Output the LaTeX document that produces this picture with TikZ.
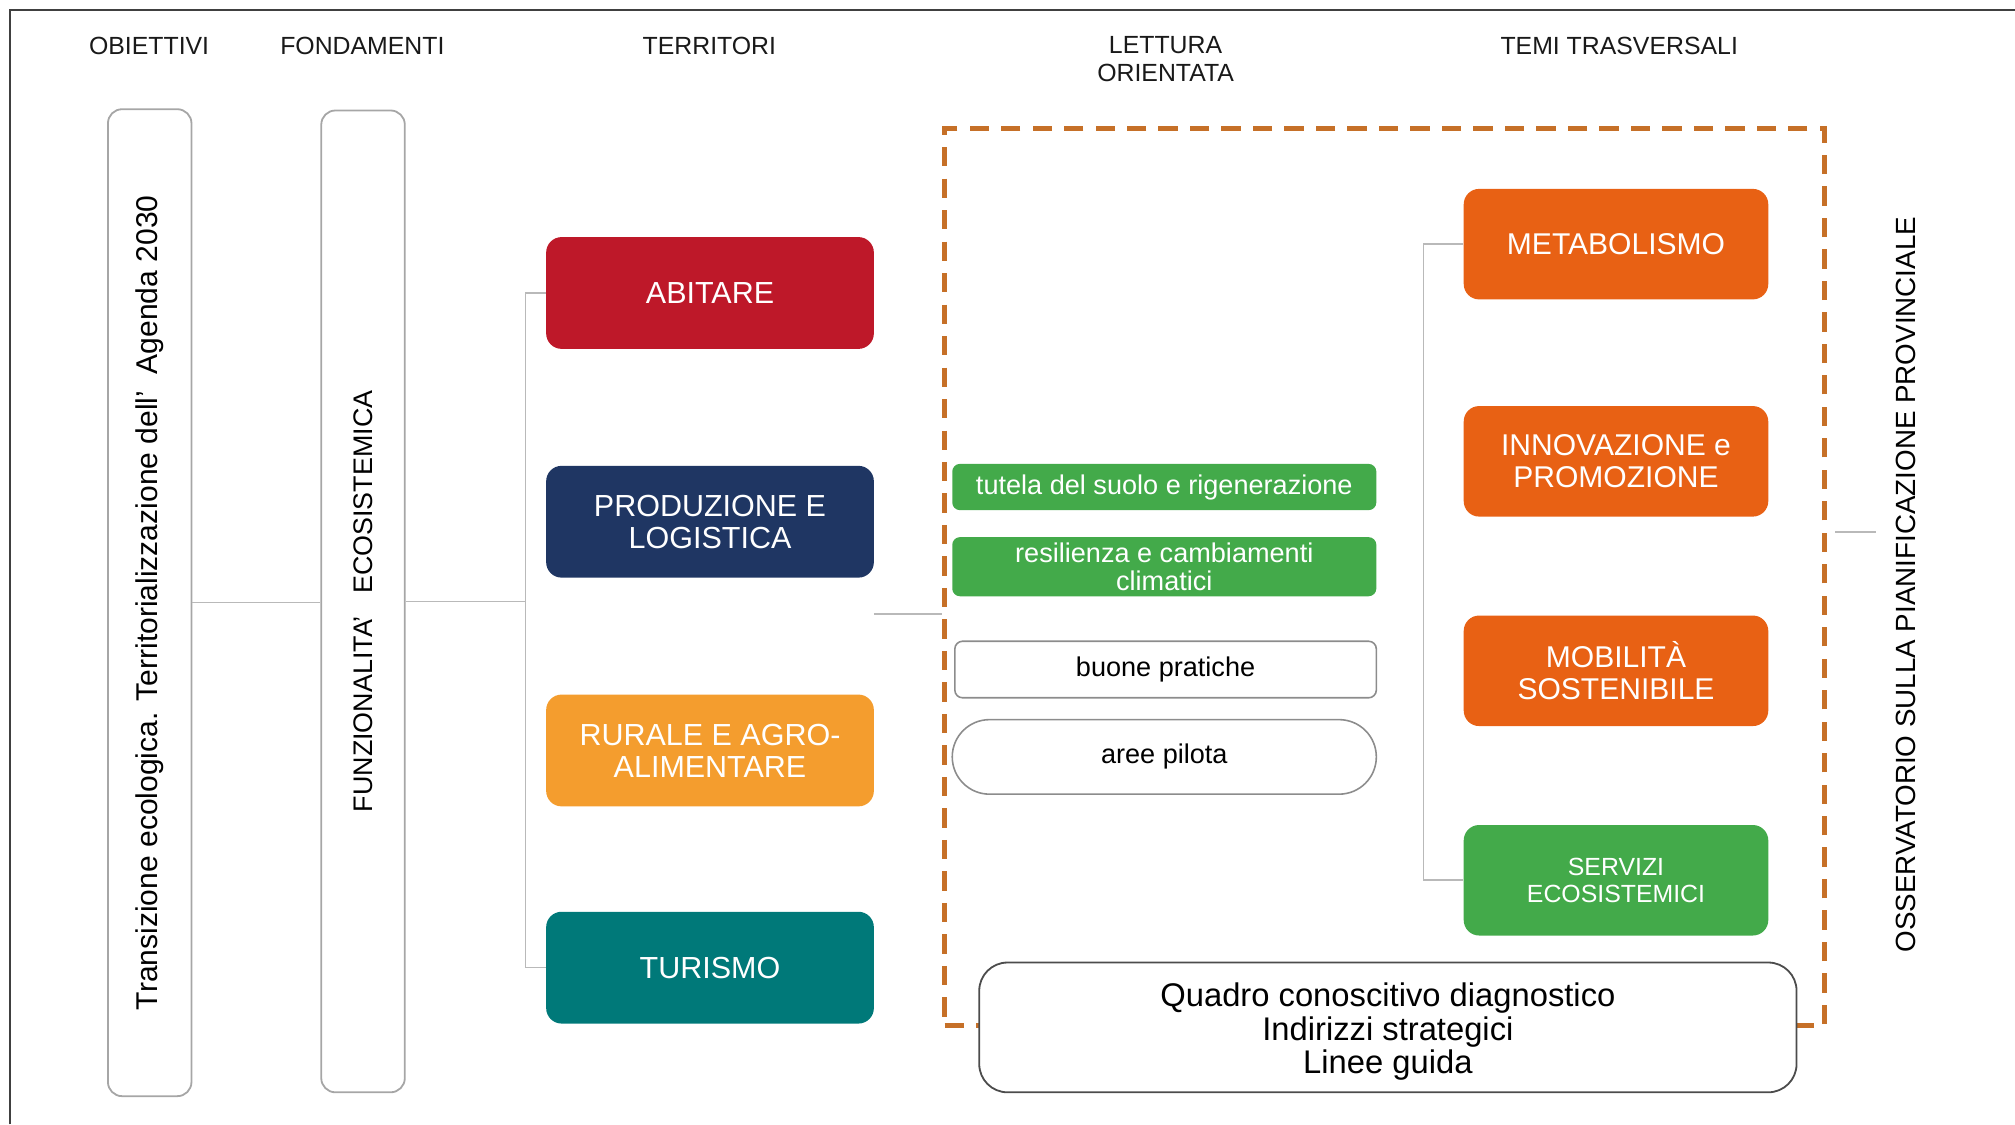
\documentclass[tikz,border=0pt]{standalone}
\usepackage{fontspec}
\setmainfont{Liberation Sans}
\definecolor{abitarered}{RGB}{190,24,41}
\definecolor{prodblue}{RGB}{31,54,99}
\definecolor{ruraleorange}{RGB}{244,157,46}
\definecolor{turismoteal}{RGB}{0,121,121}
\definecolor{temiorange}{RGB}{232,97,20}
\definecolor{ecogreen}{RGB}{67,170,74}
\definecolor{dashbrown}{RGB}{198,112,40}
\definecolor{linegray}{RGB}{185,185,185}
\tikzset{
  header/.style={align=center, text=black!90, font=\fontsize{11}{12.5}\selectfont},
  tallbox/.style={draw=black!35, line width=0.8pt, rounded corners=0.22cm, minimum width=1.3cm, inner sep=0pt, font=\fontsize{13.3}{14}\selectfont},
  terrbox/.style={rounded corners=0.24cm, minimum width=5.1cm, minimum height=1.74cm, text=white, align=center, inner sep=0pt, font=\fontsize{13.5}{14.2}\selectfont},
  temibox/.style={rounded corners=0.24cm, minimum width=4.74cm, minimum height=1.72cm, text=white, align=center, inner sep=0pt, font=\fontsize{13.3}{14.2}\selectfont},
  letturabox/.style={rounded corners=0.12cm, minimum width=6.6cm, align=center, inner sep=0pt, font=\fontsize{12}{12.5}\selectfont},
  dashframe/.style={draw=dashbrown, line width=2.1pt, dash pattern=on 0.3cm off 0.19cm},
  conn/.style={draw=linegray, line width=0.7pt}
}

\begin{document}
\begin{tikzpicture}
  \useasboundingbox (0,0) rectangle (31.36,17.5);
  \draw[black!75, line width=0.8pt] (0.16,0) -- (0.16,17.34) -- (31.36,17.34);

  % Column titles
  \node[header] (h obiettivi) at (2.32,16.78) {OBIETTIVI};
  \node[header] (h fondamenti) at (5.64,16.78) {FONDAMENTI};
  \node[header] (h territori) at (11.04,16.78) {TERRITORI};
  \node[header] (h lettura) at (18.14,16.58) {LETTURA\\ORIENTATA};
  \node[header] (h temi) at (25.2,16.78) {TEMI TRASVERSALI};

  % Lettura orientata frame
  \node[dashframe, minimum width=13.7cm, minimum height=13.96cm] (lettura) at (21.55,8.52) {};

  % Obiettivi and fondamenti
  \node[tallbox, minimum height=15.36cm] (obiettivi) at (2.33,8.12) {\rotatebox{90}{Transizione ecologica. Territorializzazione dell’~~Agenda 2030}};
  \node[tallbox, minimum height=15.28cm, font=\fontsize{11.9}{12}\selectfont] (fondamenti) at (5.65,8.14) {\rotatebox{90}{FUNZIONALITA’~~~ECOSISTEMICA}};

  % Territori
  \node[terrbox, fill=abitarered] (abitare) at (11.05,12.94) {ABITARE};
  \node[terrbox, fill=prodblue] (produzione) at (11.05,9.38) {PRODUZIONE E\\LOGISTICA};
  \node[terrbox, fill=ruraleorange] (rurale) at (11.05,5.82) {RURALE E AGRO-\\ALIMENTARE};
  \node[terrbox, fill=turismoteal] (turismo) at (11.05,2.44) {TURISMO};

  % Lettura orientata
  \node[letturabox, fill=ecogreen, text=white, minimum height=0.72cm] (tutela) at (18.12,9.92) {tutela del suolo e rigenerazione};
  \node[letturabox, fill=ecogreen, text=white, minimum height=0.92cm] (resilienza) at (18.12,8.68) {resilienza e cambiamenti\\climatici};
  \node[letturabox, draw=black!45, line width=0.7pt, minimum width=6.56cm, minimum height=0.88cm] (buone) at (18.14,7.08) {buone pratiche};
  \node[letturabox, draw=black!45, line width=0.7pt, rounded corners=0.58cm, minimum height=1.16cm] (aree) at (18.12,5.72) {aree pilota};

  % Temi trasversali
  \node[temibox, fill=temiorange] (metabolismo) at (25.15,13.7) {METABOLISMO};
  \node[temibox, fill=temiorange] (innovazione) at (25.15,10.32) {INNOVAZIONE e\\PROMOZIONE};
  \node[temibox, fill=temiorange] (mobilita) at (25.15,7.06) {MOBILITÀ\\SOSTENIBILE};
  \node[temibox, fill=ecogreen, font=\fontsize{11}{12}\selectfont] (servizi) at (25.15,3.8) {SERVIZI\\ECOSISTEMICI};

  % Quadro
  \node[draw=black!70, line width=0.8pt, fill=white, rounded corners=0.44cm, minimum width=12.72cm, minimum height=2.02cm, font=\fontsize{14.5}{14.6}\selectfont] (quadro) at (21.6,1.51) {\raisebox{-0.09cm}[\height][\depth]{\begin{tabular}{@{}c@{}}Quadro conoscitivo diagnostico\\Indirizzi strategici\\Linee guida\end{tabular}}};

  % Osservatorio
  \node[font=\fontsize{12.3}{12.3}\selectfont] (osservatorio) at (29.66,8.4) {\rotatebox{90}{OSSERVATORIO SULLA PIANIFICAZIONE PROVINCIALE}};

  % Connectors
  \coordinate (tjoin) at (8.18,8.14);
  \coordinate (lout) at (13.6,7.94);
  \coordinate (oss in) at (28.56,9.22);
  \draw[conn] (obiettivi.east) -- (obiettivi.east -| fondamenti.west);
  \draw[conn] (fondamenti.east) -- (tjoin);
  \draw[conn] (abitare.west) -| (tjoin) |- (turismo.west);
  \draw[conn] (lout) -- (lout -| lettura.west);
  \draw[conn] (metabolismo.west) -- ++(-0.62,0) |- (servizi.west);
  \draw[conn] (oss in) -- ++(0.64,0);
\end{tikzpicture}
\end{document}
